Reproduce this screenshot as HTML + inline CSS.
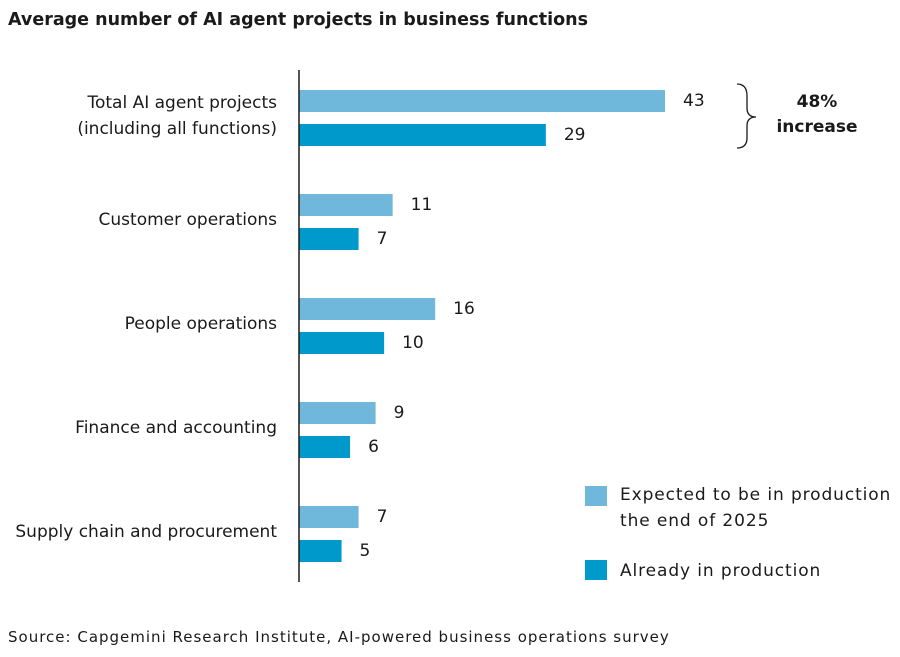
<!DOCTYPE html>
<html><head><meta charset="utf-8"><style>
body{margin:0;background:#fff;font-family:"DejaVu Sans",sans-serif;}
svg text{font-family:"DejaVu Sans",sans-serif;fill:#1a1a1a;}
</style></head><body>
<svg width="900" height="653" viewBox="0 0 900 653">
<text x="8" y="25" font-size="17.5" font-weight="bold">Average number of AI agent projects in business functions</text>
<g id="bars"></g>
<line x1="299" y1="70" x2="299" y2="582" stroke="#1a1a1a" stroke-width="1.5"/>
<path d="M737,84 Q747,84 747,96 L747,108 Q747,117 756,117 Q747,117 747,126 L747,138 Q747,148 737,148" fill="none" stroke="#1a1a1a" stroke-width="1.3"/>
<text x="817" y="107" font-size="17" font-weight="bold" text-anchor="middle">48%</text>
<text x="817" y="132" font-size="17" font-weight="bold" text-anchor="middle">increase</text>
<rect x="585" y="486" width="22" height="20" fill="#6fb8dc"/>
<text x="620" y="500" font-size="17" letter-spacing="0.9">Expected to be in production</text>
<text x="620" y="526" font-size="17" letter-spacing="0.9">the end of 2025</text>
<rect x="585" y="560" width="22" height="20" fill="#0099cc"/>
<text x="620" y="576" font-size="17" letter-spacing="0.9">Already in production</text>
<text x="8" y="642" font-size="15" letter-spacing="1">Source: Capgemini Research Institute, AI-powered business operations survey</text>
</svg>
<script>
const categories = [["Total AI agent projects","(including all functions)"],["Customer operations"],["People operations"],["Finance and accounting"],["Supply chain and procurement"]];
const expectedValues = [43, 11, 16, 9, 7];
const alreadyValues = [29, 7, 10, 6, 5];
const NS = "http://www.w3.org/2000/svg";
const g = document.getElementById('bars');
const x0 = 299, scale = (665 - 299) / 43;
const xPos = v => x0 + v * scale;
const groupY = i => 90 + i * 104;
function mk(tag, attrs, text){const e=document.createElementNS(NS,tag);for(const k in attrs)e.setAttribute(k,attrs[k]);if(text!==undefined)e.textContent=text;g.appendChild(e);return e;}
categories.forEach((cat, i) => {
  const y = groupY(i);
  const r1 = mk('rect',{x:x0,y:y,width:xPos(expectedValues[i])-x0,height:22,fill:'#6fb8dc'});
  
  
  const r2 = mk('rect',{x:x0,y:y+34,width:xPos(alreadyValues[i])-x0,height:22,fill:'#0099cc'});
  
  
  const t1 = mk('text',{x:xPos(expectedValues[i])+18,y:y+16,'font-size':17},String(expectedValues[i]));
  
  
  const t2 = mk('text',{x:xPos(alreadyValues[i])+18,y:y+50,'font-size':17},String(alreadyValues[i]));
  
  
  const mid = y + 28;
  cat.forEach((line, j) => {
    const off = (j - (cat.length - 1) / 2) * 26;
    const t = mk('text',{x:277,y:mid+off+3,'font-size':17,'text-anchor':'end'},line);
    
    
  });
});
</script>
</body></html>
